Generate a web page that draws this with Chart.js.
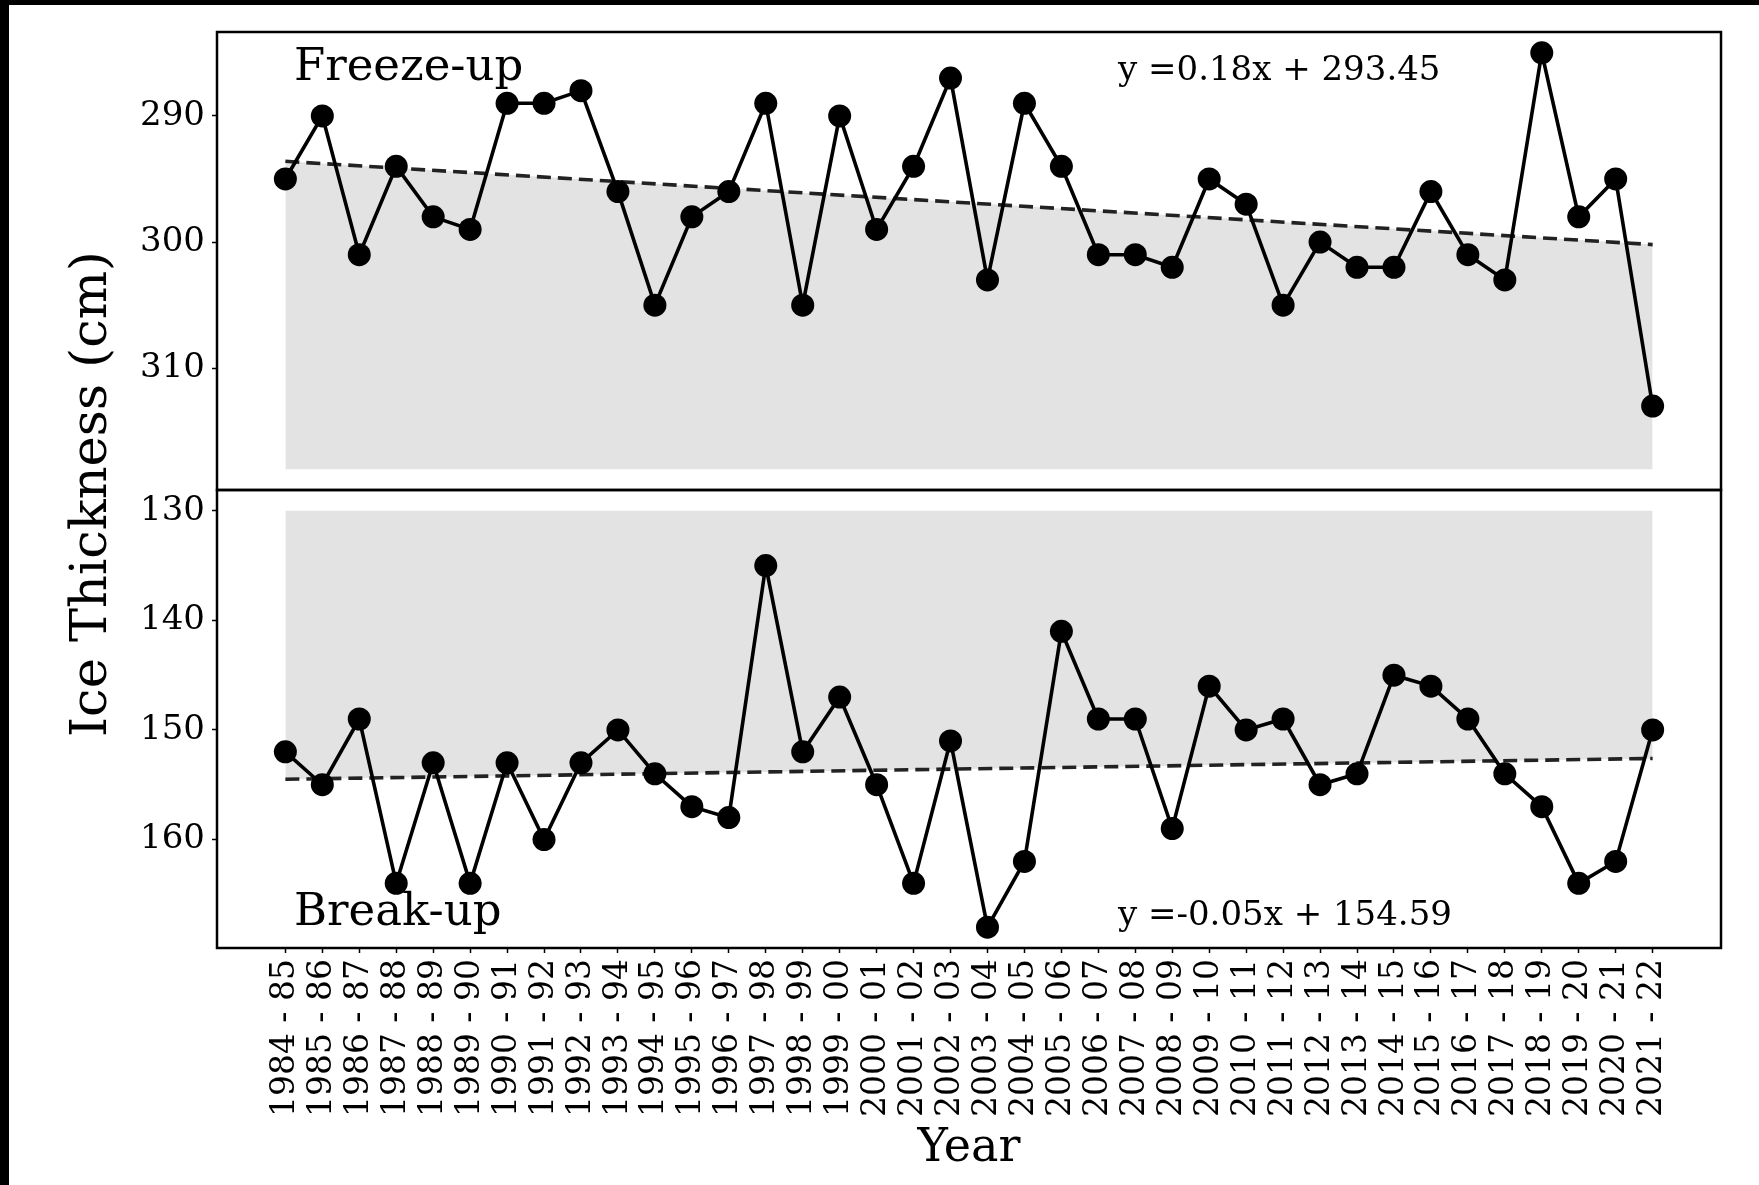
<!DOCTYPE html>
<html>
<head>
<meta charset="utf-8">
<script src="https://cdn.jsdelivr.net/npm/chart.js@4.4.1/dist/chart.umd.min.js"></script>
<style>
  html, body { margin: 0; padding: 0; background: #fff; }
  #wrap { position: relative; width: 1759px; height: 1185px; overflow: hidden; background: #fff; }
  #c { position: absolute; left: 0; top: 0; }
  .bandTop { position: absolute; left: 0; top: 0; width: 1759px; height: 5px; background: #000; }
  .bandLeft { position: absolute; left: 0; top: 0; width: 9px; height: 1185px; background: #000; }
</style>
</head>
<body>
<div id="wrap">
  <canvas id="c" width="1759" height="1185"></canvas>
  <div class="bandTop"></div>
  <div class="bandLeft"></div>
</div>
<script>
// ---- data ----
const seasons = [
  "1984 - 85","1985 - 86","1986 - 87","1987 - 88","1988 - 89","1989 - 90","1990 - 91","1991 - 92",
  "1992 - 93","1993 - 94","1994 - 95","1995 - 96","1996 - 97","1997 - 98","1998 - 99","1999 - 00",
  "2000 - 01","2001 - 02","2002 - 03","2003 - 04","2004 - 05","2005 - 06","2006 - 07","2007 - 08",
  "2008 - 09","2009 - 10","2010 - 11","2011 - 12","2012 - 13","2013 - 14","2014 - 15","2015 - 16",
  "2016 - 17","2017 - 18","2018 - 19","2019 - 20","2020 - 21","2021 - 22"
];
const freezeUp = [295,290,301,294,298,299,289,289,288,296,305,298,296,289,305,290,
                  299,294,287,303,289,294,301,301,302,295,297,305,300,302,302,296,
                  301,303,285,298,295,313];
const breakUp  = [152,155,149,164,153,164,153,160,153,150,154,157,158,135,152,147,
                  155,164,151,168,162,141,149,149,159,146,150,149,155,154,145,146,
                  149,154,157,164,162,150];
const freezeTrend = [293.6, 300.2];   // dashed trend line, first and last season
const breakTrend  = [154.5, 152.6];
const freezeFillTo = 318;             // grey band limit
const breakFillTo  = 130;
const freezeTicks = [290, 300, 310];
const breakTicks  = [130, 140, 150, 160];
const freezeRange = [283.35, 319.65];
const breakRange  = [128.1, 169.9];
const freezeEquation = "y =0.18x + 293.45";
const breakEquation  = "y =-0.05x + 154.59";

// ---- chart ----
const FONT = '"DejaVu Serif", serif';
const lastIdx = seasons.length - 1;
const seriesPts = arr => arr.map((v, i) => ({ x: i, y: v }));
const trendPts = arr => [{ x: 0, y: arr[0] }, { x: lastIdx, y: arr[1] }];

const lineStyle = {
  borderColor: '#000', borderWidth: 3.6, tension: 0,
  pointRadius: 11.5, pointHoverRadius: 11.5,
  pointBackgroundColor: '#000', pointBorderColor: '#000', pointBorderWidth: 0,
  fill: false, order: 0
};
const trendStyle = {
  borderColor: '#222', borderWidth: 3.6, borderDash: [14, 7], tension: 0,
  pointRadius: 0, backgroundColor: '#e3e3e3', order: 1
};

const framePlugin = {
  id: 'frame',
  afterDatasetsDraw(chart) {
    const { ctx, chartArea: a } = chart;
    ctx.save();
    ctx.strokeStyle = '#000';
    ctx.lineWidth = 2.5;
    for (const id of ['yTop', 'yBot']) {
      const s = chart.scales[id];
      ctx.strokeRect(a.left, s.top, a.right - a.left, s.bottom - s.top);
    }
    ctx.restore();
  },
  afterDraw(chart) {
    const { ctx, chartArea: a } = chart;
    const top = chart.scales.yTop, bot = chart.scales.yBot;
    ctx.save();
    ctx.fillStyle = '#000';
    ctx.textBaseline = 'alphabetic';
    ctx.textAlign = 'left';
    ctx.font = '45px ' + FONT;
    ctx.fillText('Freeze-up', a.left + 77, top.top + 48);
    ctx.fillText('Break-up', a.left + 77, bot.bottom - 23);
    ctx.font = '34px ' + FONT;
    ctx.fillText(freezeEquation, a.left + 901, top.top + 48);
    ctx.fillText(breakEquation, a.left + 901, bot.bottom - 23);
    // shared y-axis title
    ctx.translate(106, (top.top + bot.bottom) / 2 + 4);
    ctx.rotate(-Math.PI / 2);
    ctx.textAlign = 'center';
    ctx.font = '51px ' + FONT;
    ctx.fillText('Ice Thickness (cm)', 0, 0);
    ctx.restore();
  }
};

function yAxis(range, ticks) {
  return {
    type: 'linear', position: 'left', stack: 'panels', stackWeight: 1,
    reverse: true, bounds: 'data', min: range[0], max: range[1],
    afterBuildTicks: s => { s.ticks = ticks.map(v => ({ value: v })); },
    afterFit: s => { s.width = 217; },
    ticks: { color: '#000', padding: 7, font: { family: FONT, size: 34 } },
    grid: { drawOnChartArea: false, drawTicks: true, tickLength: 5, tickWidth: 1.5, color: '#000' },
    border: { display: false }
  };
}

new Chart(document.getElementById('c'), {
  type: 'line',
  data: {
    datasets: [
      Object.assign({ label: 'Freeze-up', data: seriesPts(freezeUp), yAxisID: 'yTop' }, lineStyle),
      Object.assign({ label: 'Break-up', data: seriesPts(breakUp), yAxisID: 'yBot' }, lineStyle),
      Object.assign({ label: 'Freeze-up trend', data: trendPts(freezeTrend), yAxisID: 'yTop',
                      fill: { value: freezeFillTo } }, trendStyle),
      Object.assign({ label: 'Break-up trend', data: trendPts(breakTrend), yAxisID: 'yBot',
                      fill: { value: breakFillTo } }, trendStyle)
    ]
  },
  options: {
    responsive: false,
    animation: false,
    devicePixelRatio: 1,
    layout: { autoPadding: false, padding: { left: 0, right: 38, top: 32, bottom: 0 } },
    plugins: { legend: { display: false }, tooltip: { enabled: false } },
    scales: {
      x: {
        type: 'linear', position: 'bottom', bounds: 'data',
        min: -1.85, max: lastIdx + 1.85,
        afterBuildTicks: s => { s.ticks = seasons.map((_, i) => ({ value: i })); },
        afterFit: s => { s.height = 237; },
        ticks: {
          autoSkip: false, minRotation: 90, maxRotation: 90, padding: 6, color: '#000',
          font: { family: FONT, size: 33 },
          callback: v => seasons[v]
        },
        grid: { drawOnChartArea: false, drawTicks: true, tickLength: 5, tickWidth: 1.5, color: '#000' },
        border: { display: false },
        title: { display: true, text: 'Year', color: '#000',
                 font: { family: FONT, size: 46 }, padding: { top: 0, bottom: 8 } }
      },
      yBot: yAxis(breakRange, breakTicks),
      yTop: yAxis(freezeRange, freezeTicks)
    }
  },
  plugins: [framePlugin]
});
</script>
</body>
</html>
